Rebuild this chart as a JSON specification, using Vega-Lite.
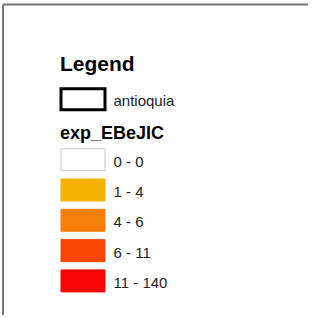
{
  "$schema": "https://vega.github.io/schema/vega-lite/v6.json",
  "width": 305,
  "height": 310.5,
  "padding": {"left": 3, "top": 4.5, "right": 4, "bottom": 3},
  "autosize": {"type": "none"},
  "background": "white",
  "view": {"stroke": null},
  "config": {"font": "Liberation Sans"},
  "data": {
    "values": [
      {"row": -3, "label": "Legend", "kind": "title"},
      {"row": -2, "label": "antioquia", "kind": "layer"},
      {"row": -1, "label": "exp_EBeJIC", "kind": "field"},
      {"row": 0, "label": "0 - 0", "kind": "class"},
      {"row": 1, "label": "1 - 4", "kind": "class"},
      {"row": 2, "label": "4 - 6", "kind": "class"},
      {"row": 3, "label": "6 - 11", "kind": "class"},
      {"row": 4, "label": "11 - 140", "kind": "class"}
    ]
  },
  "layer": [
    {
      "transform": [{"filter": "datum.kind == 'class'"}],
      "mark": {"type": "rect", "width": 44, "height": 22, "strokeWidth": 1},
      "encoding": {
        "x": {"datum": 0, "type": "quantitative", "scale": {"domain": [-2.623, 7.377], "nice": false, "zero": false}, "axis": null},
        "y": {"field": "row", "type": "quantitative", "scale": {"domain": [-5.125, 5.125], "reverse": true, "nice": false, "zero": false}, "axis": null},
        "fill": {"field": "label", "type": "nominal", "scale": {"domain": ["0 - 0", "1 - 4", "4 - 6", "6 - 11", "11 - 140"], "range": ["#ffffff", "#f5b300", "#f5800b", "#f84705", "#f50505"]}, "legend": null},
        "stroke": {"field": "label", "type": "nominal", "scale": {"domain": ["0 - 0", "1 - 4", "4 - 6", "6 - 11", "11 - 140"], "range": ["#c8c8c8", "#f5b300", "#f5800b", "#f84705", "#f50505"]}, "legend": null}
      }
    },
    {
      "transform": [{"filter": "datum.kind == 'layer'"}],
      "mark": {"type": "rect", "width": 44, "height": 21, "fill": "#ffffff", "stroke": "#000000", "strokeWidth": 3},
      "encoding": {
        "x": {"datum": 0, "type": "quantitative"},
        "y": {"field": "row", "type": "quantitative"}
      }
    },
    {
      "transform": [{"filter": "datum.kind == 'class' || datum.kind == 'layer'"}],
      "mark": {"type": "text", "align": "left", "baseline": "alphabetic", "dy": 7, "fontSize": 15, "color": "#222222"},
      "encoding": {
        "x": {"datum": 1, "type": "quantitative"},
        "y": {"field": "row", "type": "quantitative"},
        "text": {"field": "label"}
      }
    },
    {
      "transform": [{"filter": "datum.kind == 'title'"}],
      "mark": {"type": "text", "align": "left", "baseline": "alphabetic", "dy": 1.8, "fontSize": 21, "fontWeight": "bold", "color": "#000000"},
      "encoding": {
        "x": {"datum": -0.754, "type": "quantitative"},
        "y": {"field": "row", "type": "quantitative"},
        "text": {"field": "label"}
      }
    },
    {
      "transform": [{"filter": "datum.kind == 'field'"}],
      "mark": {"type": "text", "align": "left", "baseline": "alphabetic", "dy": 9.5, "fontSize": 18, "fontWeight": "bold", "color": "#000000"},
      "encoding": {
        "x": {"datum": -0.754, "type": "quantitative"},
        "y": {"field": "row", "type": "quantitative"},
        "text": {"field": "label"}
      }
    },
    {
      "transform": [{"filter": "datum.kind == 'class' && datum.row == 0"}],
      "mark": {"type": "rule", "color": "#777777", "strokeWidth": 2},
      "encoding": {
        "x": {"datum": -2.623, "type": "quantitative"},
        "y": {"datum": -5.125, "type": "quantitative"},
        "y2": {"datum": 5.125}
      }
    },
    {
      "transform": [{"filter": "datum.kind == 'class' && datum.row == 0"}],
      "mark": {"type": "rule", "color": "#777777", "strokeWidth": 2},
      "encoding": {
        "y": {"datum": -5.125, "type": "quantitative"},
        "x": {"datum": -2.623, "type": "quantitative"},
        "x2": {"datum": 7.377}
      }
    }
  ]
}
